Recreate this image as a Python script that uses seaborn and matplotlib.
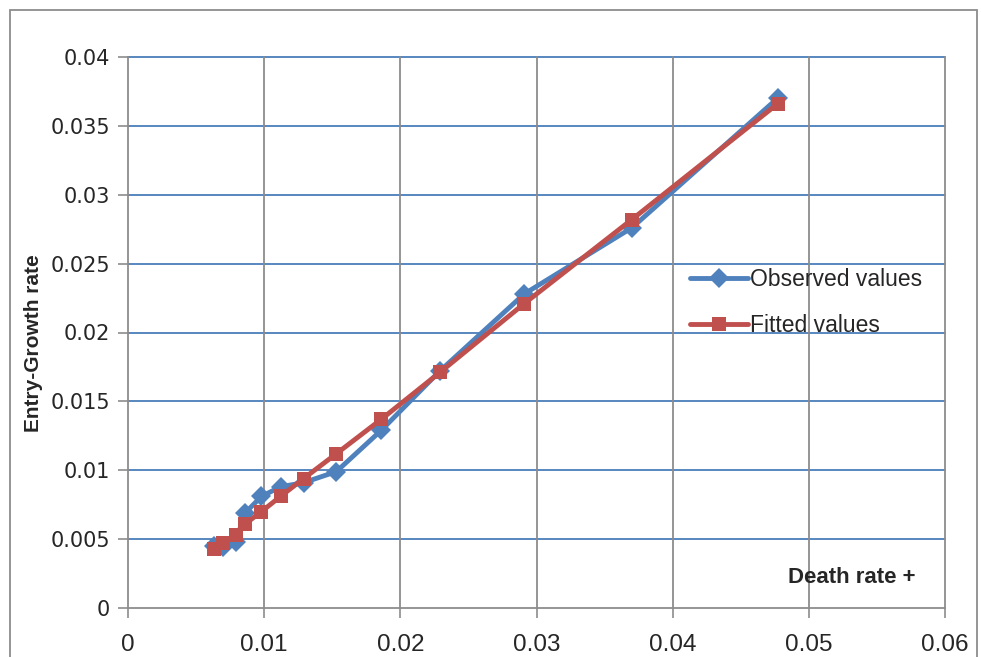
import matplotlib
matplotlib.use("Agg")
import matplotlib.pyplot as plt
from matplotlib.patches import Rectangle
import pandas as pd
import seaborn as sns

# Death rate + (x) and entry-growth rate (y) for each observation
death_rate = [0.0063, 0.0070, 0.0079, 0.0086, 0.0098, 0.0112, 0.0129,
              0.0153, 0.0186, 0.0229, 0.0291, 0.0370, 0.0477]
observed = [0.0045, 0.0044, 0.0048, 0.0069, 0.0081, 0.0088, 0.0091,
            0.0099, 0.0129, 0.0172, 0.0228, 0.0276, 0.0370]
fitted = [0.0043, 0.0047, 0.0053, 0.0061, 0.0070, 0.0081, 0.0094,
          0.0112, 0.0137, 0.0171, 0.0221, 0.0282, 0.0366]

series_names = ["Observed values", "Fitted values"]
x_ticks = [0, 0.01, 0.02, 0.03, 0.04, 0.05, 0.06]
y_ticks = [0, 0.005, 0.01, 0.015, 0.02, 0.025, 0.03, 0.035, 0.04]

df = pd.concat([
    pd.DataFrame({"death": death_rate, "rate": observed, "series": series_names[0]}),
    pd.DataFrame({"death": death_rate, "rate": fitted, "series": series_names[1]}),
], ignore_index=True)

sns.set_style("white")
plt.rcParams["font.family"] = ["Liberation Sans", "DejaVu Sans"]

BLUE = "#4F81BD"
RED = "#C0504D"
GRID_H = "#4A7EBB"
GRAY = "#8C8C8C"

fig = plt.figure(figsize=(9.81, 6.57), dpi=100)
ax = fig.add_axes([128 / 981, 1 - 608 / 657, (945 - 128) / 981, (608 - 57) / 657])

sns.lineplot(
    data=df, x="death", y="rate", hue="series", style="series",
    markers={"Observed values": "D", "Fitted values": "s"},
    dashes=False, sort=False, estimator=None,
    palette={"Observed values": BLUE, "Fitted values": RED},
    linewidth=3.5, markersize=10, markeredgewidth=0, ax=ax,
)

ax.set_xlim(0, 0.06)
ax.set_ylim(0, 0.04)
ax.set_xticks(x_ticks)
ax.set_yticks(y_ticks)
ax.set_xticklabels([f"{v:g}" for v in x_ticks], fontsize=17.5,
                   family=["Liberation Sans", "DejaVu Sans"])
ax.set_yticklabels([f"{v:g}" for v in y_ticks], fontsize=15,
                   family=["DejaVu Sans"])

# Excel-style grid: blue horizontal, gray vertical lines
ax.grid(False)
for y in y_ticks[1:]:
    ax.axhline(y, color=GRID_H, lw=1.3, zorder=0.5, clip_on=False)
for x in x_ticks[1:]:
    ax.axvline(x, color=GRAY, lw=1.3, zorder=0.5, clip_on=False)

for side in ("top", "right"):
    ax.spines[side].set_visible(False)
for side in ("left", "bottom"):
    ax.spines[side].set_color(GRAY)
    ax.spines[side].set_linewidth(1.3)
ax.tick_params(axis="both", direction="out", length=7, width=1.2, color=GRAY,
               left=True, bottom=True)
ax.tick_params(axis="x", pad=12)
ax.tick_params(axis="y", pad=6)

ax.set_xlabel("")
ax.set_ylabel("Entry-Growth rate", fontsize=15, fontweight="bold")
ax.yaxis.set_label_coords(-0.104, 0.481)
ax.text(0.0578, 0.0022, "Death rate +", fontsize=16, fontweight="bold",
        ha="right", va="center")

handles, labels = ax.get_legend_handles_labels()
ax.legend(handles, labels, loc="center left", bbox_to_anchor=(0.663, 0.554),
          frameon=False, handlelength=2.5, handletextpad=0.1,
          labelspacing=1.0, prop={"family": ["Liberation Sans", "DejaVu Sans"], "size": 16.5})

# Chart area border
fig.patches.append(Rectangle((10 / 981, -0.05), (977 - 10) / 981, 1.05 - 10 / 657,
                             transform=fig.transFigure, fill=False,
                             edgecolor=GRAY, lw=1.3))

fig.savefig("out.png", dpi=100)
